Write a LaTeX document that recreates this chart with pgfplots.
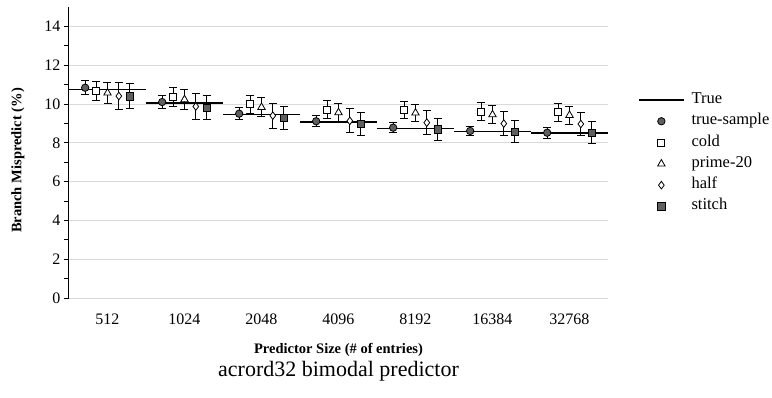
\documentclass[border=0pt]{standalone}
\usepackage{fontspec}
\setmainfont{Liberation Serif}
\usepackage{pgfplots}
\usepackage{pgfplotstable}
\pgfplotsset{compat=1.18}

\definecolor{gridgray}{HTML}{D9D9D9}
\definecolor{markgray}{HTML}{5F5F5F}

% group index g (0 = 512 ... 6 = 32768), value v, error half-width e
\pgfplotstableread{
g v e
0 10.84 0.35
1 10.10 0.32
2 9.50 0.30
3 9.11 0.29
4 8.78 0.26
5 8.61 0.25
6 8.52 0.28
}\sampletab
\pgfplotstableread{
g v e
0 10.67 0.50
1 10.36 0.48
2 9.98 0.45
3 9.71 0.47
4 9.68 0.45
5 9.61 0.47
6 9.57 0.45
}\coldtab
\pgfplotstableread{
g v e
0 10.57 0.52
1 10.23 0.50
2 9.83 0.50
3 9.56 0.48
4 9.54 0.46
5 9.45 0.48
6 9.42 0.46
}\primetab
\pgfplotstableread{
g v e
0 10.41 0.70
1 9.87 0.67
2 9.40 0.65
3 9.13 0.62
4 9.04 0.61
5 8.99 0.61
6 8.97 0.61
}\halftab
\pgfplotstableread{
g v e
0 10.40 0.65
1 9.81 0.62
2 9.28 0.58
3 8.96 0.58
4 8.70 0.57
5 8.56 0.57
6 8.51 0.57
}\stitchtab

\begin{document}
\begin{tikzpicture}
\path[use as bounding box] (0,0) rectangle (772pt,397pt);
\begin{axis}[
  at={(69pt,99pt)}, anchor=south west,
  scale only axis, width=539pt, height=291pt,
  xmin=-0.5, xmax=6.5, ymin=0, ymax=15,
  axis x line*=bottom, axis y line*=left,
  x axis line style={draw=gridgray, line width=1pt, -},
  y axis line style={draw=black, line width=1pt, -},
  xtick={0,1,2,3,4,5,6},
  xticklabels={512,1024,2048,4096,8192,16384,32768},
  xtick style={draw=none},
  ytick={0,2,4,6,8,10,12,14},
  minor y tick num=1,
  tick align=outside,
  major tick length=5pt, minor tick length=5pt,
  ytick style={black, line width=1pt},
  minor tick style={black, line width=1pt},
  ymajorgrids, major grid style={gridgray, line width=1pt},
  /pgf/number format/assume math mode=true,
  ticklabel style={font=\fontsize{16}{19}\selectfont},
  xticklabel style={yshift=-7pt},
  xlabel={Predictor Size (\# of entries)},
  ylabel={Branch Mispredict (\%)},
  label style={font=\bfseries\fontsize{14.5}{17}\selectfont},
  xlabel style={at={(rel axis cs:0.5,-0.19)}, anchor=base, inner sep=0pt},
  ylabel style={at={(rel axis cs:-0.095,0.4725)}, anchor=center},
  every axis title shift=0pt,
  title={acrord32 bimodal predictor},
  title style={at={(rel axis cs:0.5,-0.2704)}, anchor=base, inner sep=0pt,
    text height=14pt, font=\fontsize{22}{26}\selectfont},
  legend cell align=left,
  legend style={draw=none, fill=none, at={(rel axis cs:1.0557,0.707)}, anchor=north west,
    inner sep=0pt, column sep=7pt, row sep=6.3pt,
    font=\fontsize{16.5}{19}\selectfont,
    nodes={inner sep=0pt, text height=11pt, text depth=4pt}},
  every axis plot/.append style={line width=1pt},
  mymarks/.style={only marks,
    legend image code/.code={\draw[/pgfplots/every mark/.append style={scale=0.85}] plot coordinates {(22.5pt,0pt)};},
    error bars/y dir=both, error bars/y explicit,
    error bars/error bar style={black, line width=1pt},
    error bars/error mark options={rotate=90, black, mark size=4pt, line width=1pt}},
]
% true values, one segment per size
\addplot[black, line width=1.5pt, unbounded coords=jump,
  legend image code/.code={\draw[line width=1.3pt] (0pt,0pt) -- (45pt,0pt);}]
  coordinates {
  (-0.5,10.76) (0.5,10.76) (0.5,nan)
  (0.5,10.05) (1.5,10.05) (1.5,nan)
  (1.5,9.45) (2.5,9.45) (2.5,nan)
  (2.5,9.06) (3.5,9.06) (3.5,nan)
  (3.5,8.75) (4.5,8.75) (4.5,nan)
  (4.5,8.58) (5.5,8.58) (5.5,nan)
  (5.5,8.51) (6.5,8.51)
  };
\addlegendentry{True}

\addplot[mymarks, mark=*, mark size=3.7pt,
  mark options={draw=black, fill=markgray, line width=0.8pt}]
  table[x expr=\thisrow{g}-0.29, y=v, y error=e] {\sampletab};
\addlegendentry{true-sample}

\addplot[mymarks, mark=square*, mark size=3.5pt,
  mark options={draw=black, fill=white, line width=0.8pt}]
  table[x expr=\thisrow{g}-0.145, y=v, y error=e] {\coldtab};
\addlegendentry{cold}

\addplot[mymarks, mark=triangle*, mark size=4.3pt,
  mark options={draw=black, fill=white, line width=0.8pt}]
  table[x expr=\thisrow{g}, y=v, y error=e] {\primetab};
\addlegendentry{prime-20}

\addplot[mymarks, mark=diamond*, mark size=3.8pt,
  mark options={draw=black, fill=white, line width=0.8pt}]
  table[x expr=\thisrow{g}+0.147, y=v, y error=e] {\halftab};
\addlegendentry{half}

\addplot[mymarks, mark=square*, mark size=3.7pt,
  mark options={draw=black, fill=markgray, line width=0.8pt}]
  table[x expr=\thisrow{g}+0.29, y=v, y error=e] {\stitchtab};
\addlegendentry{stitch}
\end{axis}
\end{tikzpicture}
\end{document}
